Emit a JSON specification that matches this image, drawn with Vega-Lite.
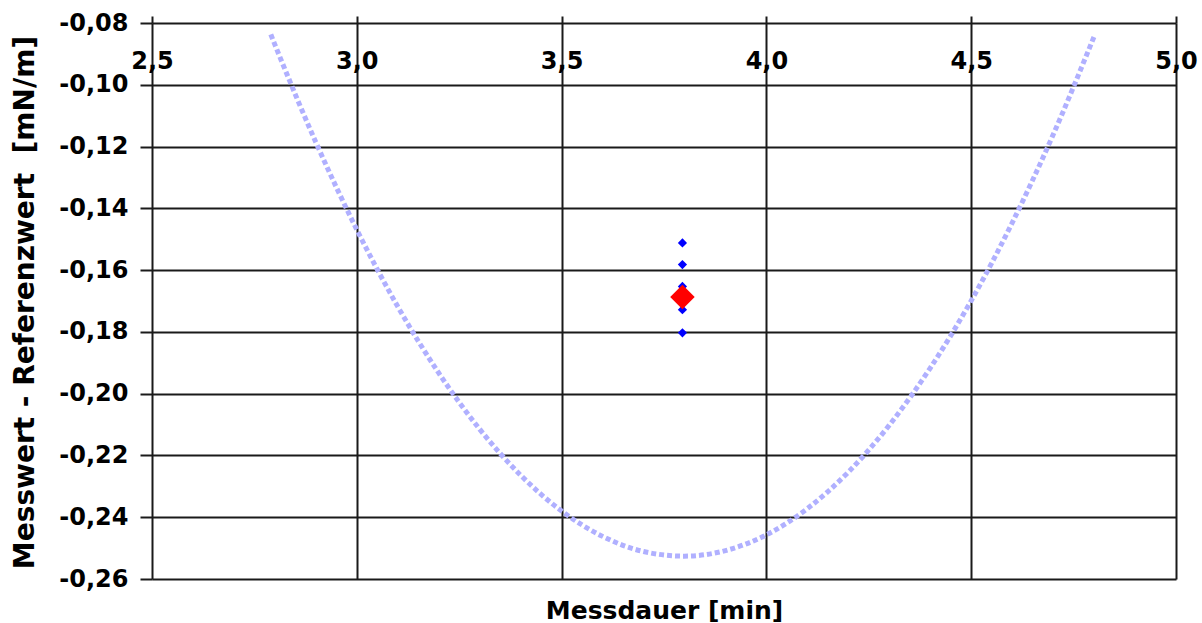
{
  "$schema": "https://vega.github.io/schema/vega-lite/v6.json",
  "width": 1024,
  "height": 556,
  "autosize": {"type": "none"},
  "padding": {"left": 152, "top": 23, "right": 26, "bottom": 44},
  "background": "white",
  "config": {
    "view": {"stroke": null},
    "font": "DejaVu Sans"
  },
  "datasets": {
    "curve": [
      {"t": 2.79, "d": -0.0837},
      {"t": 2.8, "d": -0.0870},
      {"t": 2.9, "d": -0.1186},
      {"t": 3.0, "d": -0.1469},
      {"t": 3.1, "d": -0.1718},
      {"t": 3.2, "d": -0.1933},
      {"t": 3.3, "d": -0.2115},
      {"t": 3.4, "d": -0.2264},
      {"t": 3.5, "d": -0.2380},
      {"t": 3.6, "d": -0.2462},
      {"t": 3.7, "d": -0.2511},
      {"t": 3.8, "d": -0.2526},
      {"t": 3.9, "d": -0.2508},
      {"t": 4.0, "d": -0.2457},
      {"t": 4.1, "d": -0.2372},
      {"t": 4.2, "d": -0.2254},
      {"t": 4.3, "d": -0.2102},
      {"t": 4.4, "d": -0.1917},
      {"t": 4.5, "d": -0.1699},
      {"t": 4.6, "d": -0.1447},
      {"t": 4.7, "d": -0.1162},
      {"t": 4.8, "d": -0.0844}
    ],
    "points": [
      {"t": 3.795, "d": -0.1512},
      {"t": 3.795, "d": -0.1582},
      {"t": 3.795, "d": -0.1653},
      {"t": 3.795, "d": -0.1728},
      {"t": 3.795, "d": -0.1803}
    ],
    "mean": [
      {"t": 3.795, "d": -0.1687}
    ]
  },
  "encoding": {
    "x": {
      "field": "t",
      "type": "quantitative",
      "scale": {"domain": [2.5, 5.0], "nice": false, "zero": false},
      "axis": {
        "orient": "top",
        "title": "Messdauer [min]",
        "values": [2.5, 3.0, 3.5, 4.0, 4.5, 5.0],
        "labelExpr": "replace(format(datum.value, '.1f'), '.', ',')",
        "domain": false,
        "ticks": true,
        "tickSize": 7,
        "tickColor": "#1a1a1a",
        "tickWidth": 2,
        "grid": true,
        "gridColor": "#1a1a1a",
        "gridWidth": 2,
        "gridOpacity": 1,
        "labelFont": "DejaVu Sans",
        "labelFontSize": 24,
        "labelFontWeight": "bold",
        "labelColor": "#000000",
        "labelAlign": "center",
        "labelBaseline": "middle",
        "labelPadding": -45,
        "labelFlush": false,
        "labelOverlap": false,
        "labelBound": false,
        "titleFont": "DejaVu Sans",
        "titleFontSize": 25,
        "titleFontWeight": "bold",
        "titleColor": "#000000",
        "titleBaseline": "alphabetic",
        "titleAnchor": "middle",
        "titleY": 595
      }
    },
    "y": {
      "field": "d",
      "type": "quantitative",
      "scale": {"domain": [-0.26, -0.08], "nice": false, "zero": false},
      "axis": {
        "title": "Messwert - Referenzwert\u00a0\u00a0[mN/m]",
        "values": [-0.26, -0.24, -0.22, -0.2, -0.18, -0.16, -0.14, -0.12, -0.1, -0.08],
        "labelExpr": "(datum.value < 0 ? '-' : '') + replace(format(abs(datum.value), '.2f'), '.', ',')",
        "domain": false,
        "tickSize": 12,
        "tickColor": "#1a1a1a",
        "tickWidth": 2,
        "grid": true,
        "gridColor": "#1a1a1a",
        "gridWidth": 2,
        "gridOpacity": 1,
        "labelFont": "DejaVu Sans",
        "labelFontSize": 24,
        "labelFontWeight": "bold",
        "labelColor": "#000000",
        "labelPadding": 12,
        "labelFlush": false,
        "labelOverlap": false,
        "titleFont": "DejaVu Sans",
        "titleFontSize": 28,
        "titleFontWeight": "bold",
        "titleColor": "#000000",
        "titleAngle": -90,
        "titleAlign": "center",
        "titleBaseline": "middle",
        "titleX": -127,
        "titleY": 279
      }
    }
  },
  "layer": [
    {
      "data": {"name": "curve"},
      "mark": {"type": "line", "color": "#b0b0ff", "strokeWidth": 5, "strokeDash": [5, 3], "interpolate": "monotone"}
    },
    {
      "data": {"name": "points"},
      "mark": {"type": "point", "shape": "diamond", "filled": true, "color": "#0000ff", "size": 85, "opacity": 1}
    },
    {
      "data": {"name": "mean"},
      "mark": {"type": "point", "shape": "diamond", "filled": true, "color": "#ff0000", "size": 600, "opacity": 1}
    }
  ]
}
